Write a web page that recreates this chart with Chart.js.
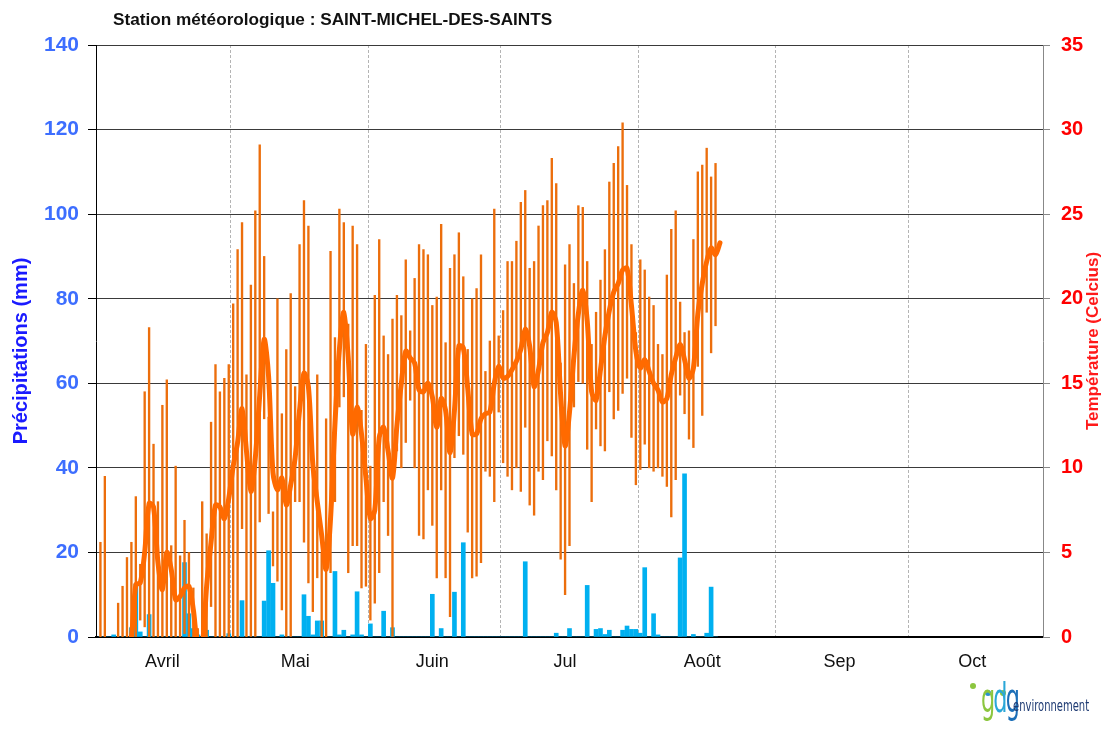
<!DOCTYPE html>
<html lang="fr">
<head>
<meta charset="UTF-8">
<title>Station météorologique : SAINT-MICHEL-DES-SAINTS</title>
<script src="https://cdn.jsdelivr.net/npm/chart.js"></script>
<style>
    body { margin: 0; background: #fff; font-family: "Liberation Sans", Arial, sans-serif; }
    #wrap { position: relative; width: 1106px; height: 730px; }
    #titre { position: absolute; left: 113px; top: 9px; font-size: 17.2px; font-weight: bold; color: #111; }
    #logo { position: absolute; left: 966px; top: 678px; width: 140px; height: 52px; }
    #logo .pt { position: absolute; width: 6px; height: 6px; border-radius: 50%; }
    #logo .gdg { position: absolute; left: 15px; top: -2px; font-family: "DejaVu Sans Condensed", "DejaVu Sans", sans-serif; font-size: 40px; letter-spacing: -3px; line-height: 44px; transform: scaleX(0.62); transform-origin: left; }
    #logo .env { position: absolute; left: 47px; top: 19px; font-family: "DejaVu Sans Condensed", "DejaVu Sans", sans-serif; font-size: 15px; color: #1f3b73; transform: scaleX(0.74); transform-origin: left; }
</style>
</head>
<body>
<div id="wrap">
    <canvas id="meteo" width="1106" height="730"></canvas>
    <div id="titre">Station météorologique : SAINT-MICHEL-DES-SAINTS</div>
    <div id="logo">
        <span class="pt" style="left:4px;top:5px;background:#8cc63f"></span>
        <span class="pt" style="left:19px;top:12px;background:#2a8fd0"></span>
        <span class="pt" style="left:34px;top:12px;background:#8cc63f"></span>
        <span class="gdg"><span style="color:#8cc63f">g</span><span style="color:#2aa7d8">d</span><span style="color:#1c6fb8">g</span></span>
        <span class="env">environnement</span>
    </div>
</div>

<script>
// jour 1 = 1er avril
const mois = ['Avril', 'Mai', 'Juin', 'Jul', 'Août', 'Sep', 'Oct'];
const debutMois = [1, 31, 62, 92, 123, 154, 184, 215];

// température maximale du jour (Celcius)
const tempMax = [
    5.6, 9.5, -1, -1, 2.0, 3.0, 4.7, 5.6, 8.3, 4.3,
    14.5, 18.3, 11.4, 8.0, 13.7, 15.2, 5.4, 10.1, 4.8, 6.9,
    5.0, 2.9, 0.5, 8.0, 6.1, 12.7, 16.1, 14.5, 15.3, 16.1,
    19.7, 22.9, 24.5, 15.5, 20.8, 25.2, 29.1, 22.5, 13.0, 7.4,
    20.0, 13.2, 17.0, 20.3, 14.8, 23.2, 25.8, 24.3, 10.0, 15.5,
    5.0, 12.9, 22.8, 17.7, 25.3, 24.5, 18.5, 24.3, 23.2, 13.4,
    17.3, 10.1, 20.2, 23.5, 17.8, 16.7, 18.8, 20.2, 19.0, 22.3,
    18.1, 21.2, 23.2, 22.9, 22.6, 19.6, 20.1, 24.4, 17.4, 21.8,
    22.6, 23.9, 21.3, 17.0, 20.0, 20.6, 22.6, 15.7, 17.5, 25.3,
    17.8, 19.3, 22.2, 22.2, 23.4, 25.7, 26.4, 21.8, 22.2, 24.3,
    25.5, 25.8, 28.3, 26.8, 16.2, 22.0, 23.2, 20.9, 25.5, 25.4,
    22.2, 17.3, 19.2, 21.1, 22.9, 26.9, 28.0, 29.0, 30.4, 26.7,
    23.2, 18.0, 22.3, 21.7, 20.1, 19.6, 17.3, 16.7, 21.4, 24.1,
    25.2, 19.8, 18.0, 18.1, 23.5, 27.5, 27.9, 28.9, 27.2, 28.0
];

// température minimale du jour (Celcius)
const tempMin = [
    -3, -2, -8, -8, -4, -3, -2, -1, 0, 1,
    0.6, -1, -1, -2, -1, -1, -2, -1, -2, 0.2,
    -2, -3, -5, -2, -2, 1.8, -1, -1, -1, -1,
    -0.5, -0.5, 6.4, -0.5, 0, 0, 6.8, 12.9, 7.3, 4.2,
    3.3, 1.6, 0, 0, 8, 8.0, 5.6, 3.2, 1.5, 3.5,
    -1, -0.5, 3.8, 8, 13.6, 14.2, 3.8, 5.4, 5.4, 2.9,
    3, 1, 2.0, 3.8, 8, 6, 0, 11.0, 10, 11.5,
    14.0, 10, 6.0, 5.8, 8.7, 6.6, 3.5, 8.7, 3.5, 1.2,
    10.6, 11.9, 10.8, 6.2, 3.5, 3.6, 4.4, 9.8, 9.5, 8.0,
    13.3, 10.3, 9.5, 8.7, 10.0, 8.6, 12.4, 7.8, 7.2, 9.8,
    9.3, 11.6, 10.7, 8.7, 4.6, 2.5, 5.4, 13.6, 15.1, 15.0,
    11.1, 8.0, 12.3, 11.3, 11.0, 14.5, 12.9, 13.4, 14.4, 15.3,
    11.8, 9, 9.9, 11.4, 10.0, 9.8, 10, 9.5, 8.9, 7.1,
    9.3, 14.3, 13.2, 11.7, 11.2, 16, 13.1, 19.2, 16.8, 18.4
];

// température moyenne lissée (Celcius)
const tempMoy = [
    -3, -2.5, -3.5, -3, -2, -1.5, -0.8, 0.0, 3.1, 3.2,
    5.0, 7.9, 7.7, 4.4, 2.8, 5.0, 4.0, 2.2, 2.4, 2.9,
    3.0, 1.6, -0.5, -0.5, 3.0, 5.6, 7.8, 7.7, 7.0, 8.2,
    10.1, 11.5, 13.5, 11.0, 8.6, 10.6, 14.3, 17.6, 15.4, 9.7,
    8.7, 9.4, 7.8, 9.0, 10.6, 13.4, 15.6, 14.8, 10.2, 8.0,
    6.0, 4.0, 7.0, 12.6, 17.0, 19.2, 16.5, 12.0, 13.6, 12.0,
    9.4, 7.0, 7.5, 11.8, 12.4, 11.0, 9.4, 12.5, 15.0, 16.9,
    16.5, 16.2, 14.6, 14.5, 15.0, 14.2, 12.4, 14.1, 13.4, 10.9,
    13.4, 17.2, 17.1, 14.7, 12.0, 12.0, 12.9, 13.2, 13.3, 15.0,
    16.0, 15.3, 15.4, 15.8, 16.3, 17.0, 18.2, 17.2, 14.8, 15.8,
    17.4, 18.0, 19.2, 18.6, 14.3, 11.3, 13.3, 16.6, 19.1, 20.5,
    18.7, 14.5, 14.0, 15.8, 17.8, 19.3, 20.4, 20.9, 21.7, 21.8,
    19.6, 16.9, 15.9, 16.4, 15.7, 15.0, 14.6, 13.9, 14.1, 15.5,
    16.5, 17.3, 16.4, 15.3, 15.9, 19.1, 20.9, 22.2, 23.0, 22.6,
    23.3
];

// précipitations du jour (mm)
const pluie = [
    0, 0, 0, 0.5, 0, 0, 0, 2.2, 12.5, 1.2,
    0, 5.3, 0, 0, 0, 0, 0, 0, 0, 17.6,
    5.5, 2.0, 0.5, 0, 1.6, 0, 0, 0, 0, 0.8,
    0, 0, 8.6, 0, 0, 0, 0, 8.5, 20.4, 12.7,
    0, 0.5, 0, 0, 0, 0, 10.0, 4.9, 0.5, 3.8,
    3.8, 0, 0, 15.5, 0.5, 1.6, 0, 0.5, 10.7, 0.5,
    0, 3.1, 0, 0, 6.1, 0, 2.2, 0, 0, 0,
    0, 0, 0, 0, 0, 10.1, 0, 2.0, 0, 0,
    10.6, 0, 22.3, 0, 0, 0, 0, 0, 0, 0,
    0, 0, 0, 0, 0, 0, 17.8, 0, 0, 0,
    0, 0, 0, 0.9, 0, 0, 2.0, 0, 0, 0,
    12.2, 0, 1.8, 2.0, 0.6, 1.6, 0, 0, 1.6, 2.6,
    1.8, 1.8, 0.9, 16.4, 0, 5.5, 0.5, 0, 0, 0,
    0, 18.7, 38.6, 0, 0.6, 0, 0, 0.9, 11.8, 0
];

const police = '"Liberation Sans", Arial, sans-serif';

// limites des mois (lignes pointillées) et étiquettes au 15 de chaque mois
const limites = debutMois.slice(1, 7).map(d => d - 0.5);
const quinze = mois.map((m, i) => debutMois[i] + 14);

// titres des axes verticaux (lus de bas en haut des deux côtés)
const titresAxes = {
    id: 'titresAxes',
    afterDraw(chart) {
        const ctx = chart.ctx;
        ctx.save();
        ctx.font = 'bold 20px ' + police;
        ctx.textAlign = 'center';
        ctx.textBaseline = 'middle';

        ctx.save();
        ctx.translate(21, 351);
        ctx.rotate(-Math.PI / 2);
        ctx.fillStyle = '#1a1aff';
        ctx.fillText('Précipitations (mm)', 0, 0);
        ctx.restore();

        ctx.font = 'bold 17px ' + police;
        ctx.translate(1093, 341);
        ctx.rotate(-Math.PI / 2);
        ctx.fillStyle = '#ff1a1a';
        ctx.fillText('Température (Celcius)', 0, 0);
        ctx.restore();
    }
};

const ctx = document.getElementById('meteo').getContext('2d');

new Chart(ctx, {
    type: 'bar',
    data: {
        datasets: [
            {
                type: 'line',
                label: 'Température moyenne',
                data: tempMoy.map((v, i) => ({ x: i + 1, y: v })),
                yAxisID: 'y2',
                borderColor: '#ff6a00',
                borderWidth: 5,
                borderJoinStyle: 'round',
                borderCapStyle: 'round',
                pointRadius: 0,
                tension: 0.3
            },
            {
                label: 'Température min-max',
                data: tempMax.map((v, i) => ({ x: i + 1, y: [tempMin[i], v] })),
                yAxisID: 'y2',
                backgroundColor: '#ec6e0c',
                barThickness: 1.7,
                grouped: false
            },
            {
                label: 'Précipitations',
                data: pluie.map((v, i) => ({ x: i + 1, y: v })),
                yAxisID: 'y',
                backgroundColor: '#00b0f0',
                barThickness: 4,
                grouped: false
            }
        ]
    },
    options: {
        responsive: false,
        animation: false,
        layout: { padding: { top: 45, left: 0, right: 0, bottom: 0 } },
        plugins: {
            legend: { display: false },
            tooltip: { enabled: false }
        },
        scales: {
            x: {
                type: 'linear',
                position: 'bottom',
                min: 0,
                max: 214,
                offset: false,
                weight: 0,
                afterBuildTicks: (s) => { s.ticks = limites.map(v => ({ value: v })); },
                afterFit: (s) => { s.height = 0; },
                ticks: { display: false, autoSkip: false },
                grid: { offset: false, color: '#b4b4b4', lineWidth: 1, drawTicks: false },
                border: { color: '#000', width: 2, dash: [3, 2] }
            },
            mois: {
                type: 'linear',
                axis: 'x',
                position: 'bottom',
                min: 0,
                max: 214,
                offset: false,
                weight: 1,
                afterBuildTicks: (s) => { s.ticks = quinze.map(v => ({ value: v })); },
                afterFit: (s) => { s.height = 93; },
                ticks: {
                    autoSkip: false,
                    maxRotation: 0,
                    padding: 14,
                    color: '#111',
                    font: { family: police, size: 18 },
                    callback: (v) => mois[quinze.indexOf(v)]
                },
                grid: { display: false, offset: false, drawTicks: false },
                border: { display: false }
            },
            y: {
                position: 'left',
                min: 0,
                max: 140,
                afterFit: (s) => { s.width = 96; },
                ticks: {
                    stepSize: 20,
                    padding: 9,
                    color: '#3d6eff',
                    font: { family: police, size: 21, weight: 'bold' }
                },
                grid: { color: '#3a3a3a', lineWidth: 1, tickLength: 8, tickColor: '#000' },
                border: { color: '#000', width: 1 }
            },
            y2: {
                position: 'right',
                min: 0,
                max: 35,
                afterFit: (s) => { s.width = 63; },
                ticks: {
                    stepSize: 5,
                    padding: 11,
                    color: '#ff0000',
                    font: { family: police, size: 20, weight: 'bold' }
                },
                grid: { drawOnChartArea: false, tickLength: 7, tickColor: '#888' },
                border: { color: '#888', width: 1 }
            }
        }
    },
    plugins: [titresAxes]
});
</script>
</body>
</html>
